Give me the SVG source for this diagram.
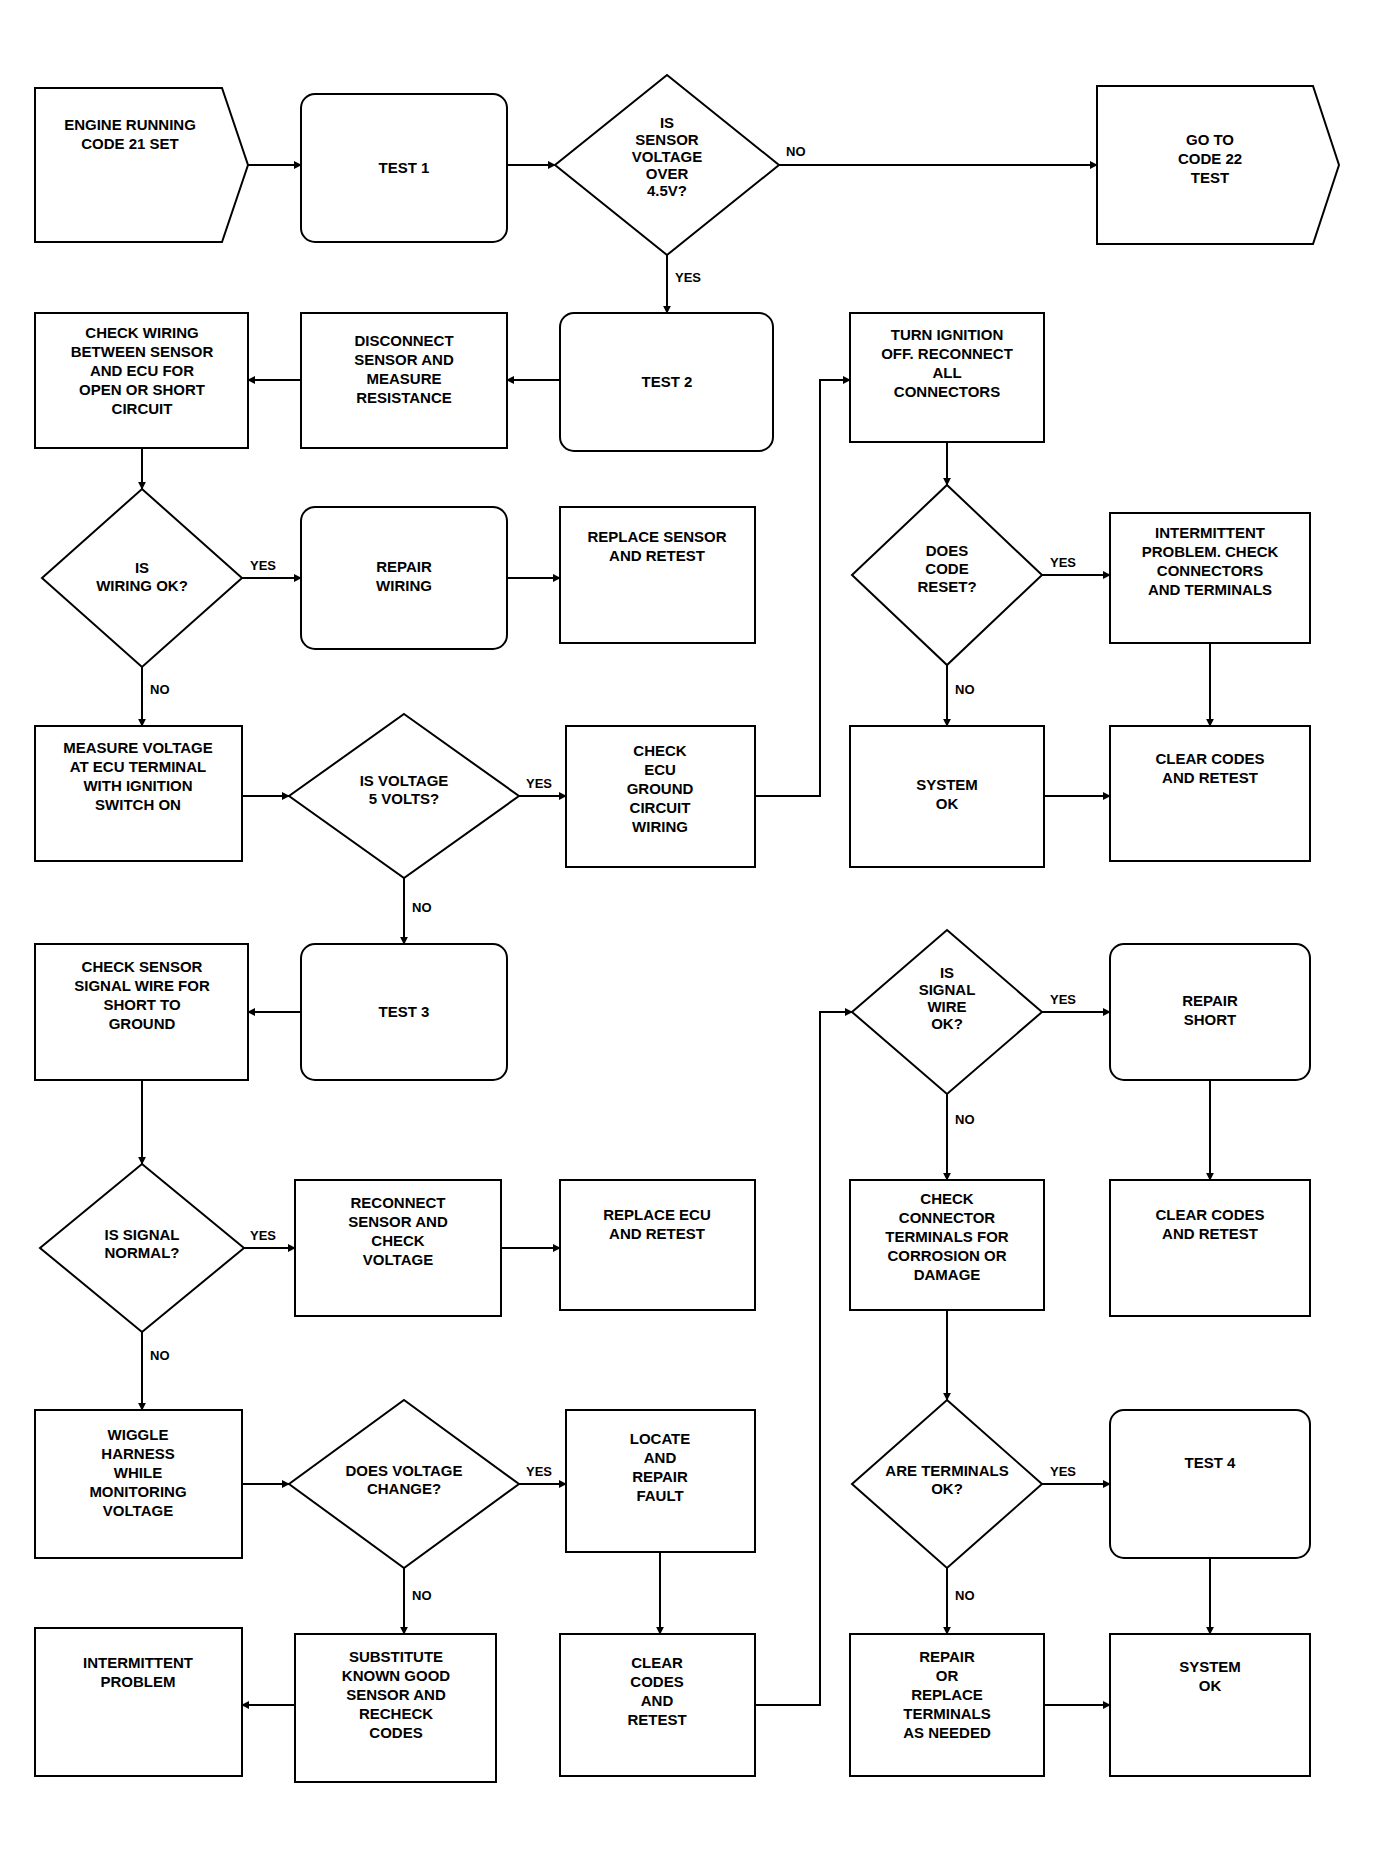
<svg xmlns="http://www.w3.org/2000/svg" width="1373" height="1849" viewBox="0 0 1373 1849">
<defs>
<marker id="ah" viewBox="0 0 10 10" refX="9" refY="5" markerWidth="8" markerHeight="8" orient="auto" markerUnits="userSpaceOnUse">
<path d="M0,0 L10,5 L0,10 z" fill="#000"/>
</marker>
<style>
.b{fill:#fff;stroke:#000;stroke-width:2}
.t{font-family:"Liberation Sans",Arial,sans-serif;font-size:15px;font-weight:bold;fill:#000;text-anchor:middle}
.l{font-family:"Liberation Sans",Arial,sans-serif;font-size:13px;font-weight:bold;fill:#000}
.c{fill:none;stroke:#000;stroke-width:2;marker-end:url(#ah)}
</style>
</defs>
<rect width="1373" height="1849" fill="#fff"/>

<g id="connectors">
<line class="c" x1="248" y1="165" x2="301" y2="165"/>
<line class="c" x1="507" y1="165" x2="555" y2="165"/>
<line class="c" x1="779" y1="165" x2="1097" y2="165"/>
<line class="c" x1="667" y1="255" x2="667" y2="313"/>
<line class="c" x1="560" y1="380" x2="507" y2="380"/>
<line class="c" x1="301" y1="380" x2="248" y2="380"/>
<line class="c" x1="142" y1="448" x2="142" y2="489"/>
<line class="c" x1="242" y1="578" x2="301" y2="578"/>
<line class="c" x1="507" y1="578" x2="560" y2="578"/>
<line class="c" x1="142" y1="667" x2="142" y2="726"/>
<line class="c" x1="242" y1="796" x2="289" y2="796"/>
<line class="c" x1="519" y1="796" x2="566" y2="796"/>
<line class="c" x1="404" y1="878" x2="404" y2="944"/>
<path class="c" d="M755,796 H820 V380 H850"/>
<line class="c" x1="947" y1="442" x2="947" y2="485"/>
<line class="c" x1="1042" y1="575" x2="1110" y2="575"/>
<line class="c" x1="947" y1="665" x2="947" y2="726"/>
<line class="c" x1="1210" y1="643" x2="1210" y2="726"/>
<line class="c" x1="1044" y1="796" x2="1110" y2="796"/>
<line class="c" x1="301" y1="1012" x2="248" y2="1012"/>
<line class="c" x1="142" y1="1080" x2="142" y2="1164"/>
<line class="c" x1="244" y1="1248" x2="295" y2="1248"/>
<line class="c" x1="501" y1="1248" x2="560" y2="1248"/>
<line class="c" x1="142" y1="1332" x2="142" y2="1410"/>
<path class="c" d="M755,1705 H820 V1012 H852"/>
<line class="c" x1="1042" y1="1012" x2="1110" y2="1012"/>
<line class="c" x1="947" y1="1094" x2="947" y2="1180"/>
<line class="c" x1="1210" y1="1080" x2="1210" y2="1180"/>
<line class="c" x1="947" y1="1310" x2="947" y2="1400"/>
<line class="c" x1="242" y1="1484" x2="289" y2="1484"/>
<line class="c" x1="519" y1="1484" x2="566" y2="1484"/>
<line class="c" x1="404" y1="1568" x2="404" y2="1634"/>
<line class="c" x1="660" y1="1552" x2="660" y2="1634"/>
<line class="c" x1="1042" y1="1484" x2="1110" y2="1484"/>
<line class="c" x1="947" y1="1568" x2="947" y2="1634"/>
<line class="c" x1="1210" y1="1558" x2="1210" y2="1634"/>
<line class="c" x1="295" y1="1705" x2="242" y2="1705"/>
<line class="c" x1="1044" y1="1705" x2="1110" y2="1705"/>
<text class="l" x="786" y="156">NO</text>
<text class="l" x="675" y="282">YES</text>
<text class="l" x="250" y="570">YES</text>
<text class="l" x="150" y="694">NO</text>
<text class="l" x="526" y="788">YES</text>
<text class="l" x="412" y="912">NO</text>
<text class="l" x="1050" y="567">YES</text>
<text class="l" x="955" y="694">NO</text>
<text class="l" x="1050" y="1004">YES</text>
<text class="l" x="955" y="1124">NO</text>
<text class="l" x="250" y="1240">YES</text>
<text class="l" x="150" y="1360">NO</text>
<text class="l" x="526" y="1476">YES</text>
<text class="l" x="412" y="1600">NO</text>
<text class="l" x="1050" y="1476">YES</text>
<text class="l" x="955" y="1600">NO</text>
</g>

<g id="nA"><path class="b" d="M35,88 H222 L248,165 L222,242 H35 Z"/><text class="t" x="130" y="130">ENGINE RUNNING<tspan x="130" dy="19">CODE 21 SET</tspan></text></g>
<g id="nB"><rect class="b" x="301" y="94" width="206" height="148" rx="14"/><text class="t" x="404" y="173">TEST 1</text></g>
<g id="nC"><path class="b" d="M667,75 L779,165 L667,255 L555,165 Z"/><text class="t" x="667" y="128">IS<tspan x="667" dy="17">SENSOR</tspan><tspan x="667" dy="17">VOLTAGE</tspan><tspan x="667" dy="17">OVER</tspan><tspan x="667" dy="17">4.5V?</tspan></text></g>
<g id="nD"><path class="b" d="M1097,86 H1313 L1339,165 L1313,244 H1097 Z"/><text class="t" x="1210" y="145">GO TO<tspan x="1210" dy="19">CODE 22</tspan><tspan x="1210" dy="19">TEST</tspan></text></g>

<g id="nE"><rect class="b" x="35" y="313" width="213" height="135"/><text class="t" x="142" y="338">CHECK WIRING<tspan x="142" dy="19">BETWEEN SENSOR</tspan><tspan x="142" dy="19">AND ECU FOR</tspan><tspan x="142" dy="19">OPEN OR SHORT</tspan><tspan x="142" dy="19">CIRCUIT</tspan></text></g>
<g id="nF"><rect class="b" x="301" y="313" width="206" height="135"/><text class="t" x="404" y="346">DISCONNECT<tspan x="404" dy="19">SENSOR AND</tspan><tspan x="404" dy="19">MEASURE</tspan><tspan x="404" dy="19">RESISTANCE</tspan></text></g>
<g id="nG"><rect class="b" x="560" y="313" width="213" height="138" rx="14"/><text class="t" x="667" y="387">TEST 2</text></g>
<g id="nH"><rect class="b" x="850" y="313" width="194" height="129"/><text class="t" x="947" y="340">TURN IGNITION<tspan x="947" dy="19">OFF. RECONNECT</tspan><tspan x="947" dy="19">ALL</tspan><tspan x="947" dy="19">CONNECTORS</tspan></text></g>

<g id="nI"><path class="b" d="M142,489 L242,578 L142,667 L42,578 Z"/><text class="t" x="142" y="573">IS<tspan x="142" dy="18">WIRING OK?</tspan></text></g>
<g id="nJ"><rect class="b" x="301" y="507" width="206" height="142" rx="14"/><text class="t" x="404" y="572">REPAIR<tspan x="404" dy="19">WIRING</tspan></text></g>
<g id="nK"><rect class="b" x="560" y="507" width="195" height="136"/><text class="t" x="657" y="542">REPLACE SENSOR<tspan x="657" dy="19">AND RETEST</tspan></text></g>
<g id="nL"><path class="b" d="M947,485 L1042,575 L947,665 L852,575 Z"/><text class="t" x="947" y="556">DOES<tspan x="947" dy="18">CODE</tspan><tspan x="947" dy="18">RESET?</tspan></text></g>
<g id="nM"><rect class="b" x="1110" y="513" width="200" height="130"/><text class="t" x="1210" y="538">INTERMITTENT<tspan x="1210" dy="19">PROBLEM. CHECK</tspan><tspan x="1210" dy="19">CONNECTORS</tspan><tspan x="1210" dy="19">AND TERMINALS</tspan></text></g>

<g id="nN"><rect class="b" x="35" y="726" width="207" height="135"/><text class="t" x="138" y="753">MEASURE VOLTAGE<tspan x="138" dy="19">AT ECU TERMINAL</tspan><tspan x="138" dy="19">WITH IGNITION</tspan><tspan x="138" dy="19">SWITCH ON</tspan></text></g>
<g id="nO"><path class="b" d="M404,714 L519,796 L404,878 L289,796 Z"/><text class="t" x="404" y="786">IS VOLTAGE<tspan x="404" dy="18">5 VOLTS?</tspan></text></g>
<g id="nP"><rect class="b" x="566" y="726" width="189" height="141"/><text class="t" x="660" y="756">CHECK<tspan x="660" dy="19">ECU</tspan><tspan x="660" dy="19">GROUND</tspan><tspan x="660" dy="19">CIRCUIT</tspan><tspan x="660" dy="19">WIRING</tspan></text></g>
<g id="nQ"><rect class="b" x="850" y="726" width="194" height="141"/><text class="t" x="947" y="790">SYSTEM<tspan x="947" dy="19">OK</tspan></text></g>
<g id="nR"><rect class="b" x="1110" y="726" width="200" height="135"/><text class="t" x="1210" y="764">CLEAR CODES<tspan x="1210" dy="19">AND RETEST</tspan></text></g>

<g id="nS"><rect class="b" x="35" y="944" width="213" height="136"/><text class="t" x="142" y="972">CHECK SENSOR<tspan x="142" dy="19">SIGNAL WIRE FOR</tspan><tspan x="142" dy="19">SHORT TO</tspan><tspan x="142" dy="19">GROUND</tspan></text></g>
<g id="nT"><rect class="b" x="301" y="944" width="206" height="136" rx="14"/><text class="t" x="404" y="1017">TEST 3</text></g>
<g id="nU"><path class="b" d="M947,930 L1042,1012 L947,1094 L852,1012 Z"/><text class="t" x="947" y="978">IS<tspan x="947" dy="17">SIGNAL</tspan><tspan x="947" dy="17">WIRE</tspan><tspan x="947" dy="17">OK?</tspan></text></g>
<g id="nV"><rect class="b" x="1110" y="944" width="200" height="136" rx="14"/><text class="t" x="1210" y="1006">REPAIR<tspan x="1210" dy="19">SHORT</tspan></text></g>

<g id="nW"><path class="b" d="M142,1164 L244,1248 L142,1332 L40,1248 Z"/><text class="t" x="142" y="1240">IS SIGNAL<tspan x="142" dy="18">NORMAL?</tspan></text></g>
<g id="nX"><rect class="b" x="295" y="1180" width="206" height="136"/><text class="t" x="398" y="1208">RECONNECT<tspan x="398" dy="19">SENSOR AND</tspan><tspan x="398" dy="19">CHECK</tspan><tspan x="398" dy="19">VOLTAGE</tspan></text></g>
<g id="nY"><rect class="b" x="560" y="1180" width="195" height="130"/><text class="t" x="657" y="1220">REPLACE ECU<tspan x="657" dy="19">AND RETEST</tspan></text></g>
<g id="nZ"><rect class="b" x="850" y="1180" width="194" height="130"/><text class="t" x="947" y="1204">CHECK<tspan x="947" dy="19">CONNECTOR</tspan><tspan x="947" dy="19">TERMINALS FOR</tspan><tspan x="947" dy="19">CORROSION OR</tspan><tspan x="947" dy="19">DAMAGE</tspan></text></g>
<g id="nAA"><rect class="b" x="1110" y="1180" width="200" height="136"/><text class="t" x="1210" y="1220">CLEAR CODES<tspan x="1210" dy="19">AND RETEST</tspan></text></g>

<g id="nBB"><rect class="b" x="35" y="1410" width="207" height="148"/><text class="t" x="138" y="1440">WIGGLE<tspan x="138" dy="19">HARNESS</tspan><tspan x="138" dy="19">WHILE</tspan><tspan x="138" dy="19">MONITORING</tspan><tspan x="138" dy="19">VOLTAGE</tspan></text></g>
<g id="nCC"><path class="b" d="M404,1400 L519,1484 L404,1568 L289,1484 Z"/><text class="t" x="404" y="1476">DOES VOLTAGE<tspan x="404" dy="18">CHANGE?</tspan></text></g>
<g id="nDD"><rect class="b" x="566" y="1410" width="189" height="142"/><text class="t" x="660" y="1444">LOCATE<tspan x="660" dy="19">AND</tspan><tspan x="660" dy="19">REPAIR</tspan><tspan x="660" dy="19">FAULT</tspan></text></g>
<g id="nEE"><path class="b" d="M947,1400 L1042,1484 L947,1568 L852,1484 Z"/><text class="t" x="947" y="1476">ARE TERMINALS<tspan x="947" dy="18">OK?</tspan></text></g>
<g id="nFF"><rect class="b" x="1110" y="1410" width="200" height="148" rx="14"/><text class="t" x="1210" y="1468">TEST 4</text></g>

<g id="nGG"><rect class="b" x="35" y="1628" width="207" height="148"/><text class="t" x="138" y="1668">INTERMITTENT<tspan x="138" dy="19">PROBLEM</tspan></text></g>
<g id="nHH"><rect class="b" x="295" y="1634" width="201" height="148"/><text class="t" x="396" y="1662">SUBSTITUTE<tspan x="396" dy="19">KNOWN GOOD</tspan><tspan x="396" dy="19">SENSOR AND</tspan><tspan x="396" dy="19">RECHECK</tspan><tspan x="396" dy="19">CODES</tspan></text></g>
<g id="nII"><rect class="b" x="560" y="1634" width="195" height="142"/><text class="t" x="657" y="1668">CLEAR<tspan x="657" dy="19">CODES</tspan><tspan x="657" dy="19">AND</tspan><tspan x="657" dy="19">RETEST</tspan></text></g>
<g id="nJJ"><rect class="b" x="850" y="1634" width="194" height="142"/><text class="t" x="947" y="1662">REPAIR<tspan x="947" dy="19">OR</tspan><tspan x="947" dy="19">REPLACE</tspan><tspan x="947" dy="19">TERMINALS</tspan><tspan x="947" dy="19">AS NEEDED</tspan></text></g>
<g id="nKK"><rect class="b" x="1110" y="1634" width="200" height="142"/><text class="t" x="1210" y="1672">SYSTEM<tspan x="1210" dy="19">OK</tspan></text></g>
</svg>
